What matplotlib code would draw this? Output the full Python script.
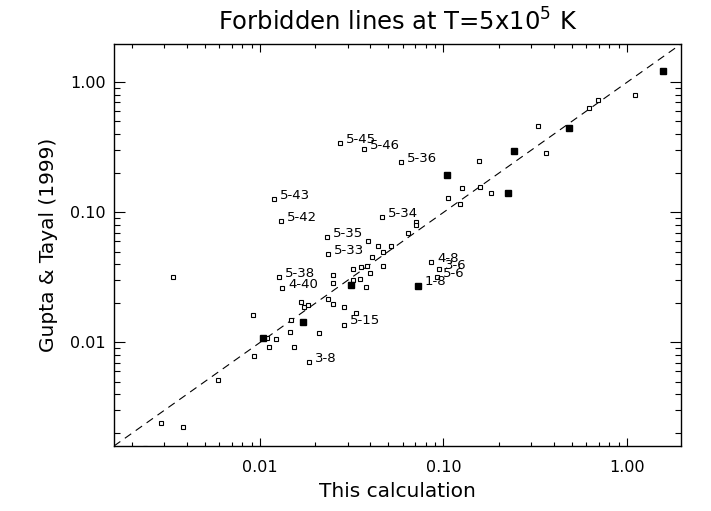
import matplotlib.pyplot as plt
from matplotlib.ticker import FixedLocator, FixedFormatter, LogLocator, NullFormatter

# forbidden-line rates: this calculation (x) vs Gupta & Tayal 1999 (y)
# open squares, with the line id where one is written next to it
open_x = [0.0273, 0.0369, 0.0586, 0.0119, 0.0130, 0.0463, 0.0232, 0.0235,
          0.0127, 0.0132, 0.0287, 0.0185, 0.0855, 0.0945, 0.0922,
          0.0388, 0.0407, 0.0440, 0.156, 0.327, 0.362, 0.621, 0.695, 1.105,
          0.126, 0.1057, 0.123, 0.158, 0.1816, 0.0708, 0.0708, 0.0641,
          0.0517, 0.0468, 0.0468, 0.00336, 0.00916, 0.0109, 0.0112, 0.0122,
          0.00927, 0.0146, 0.0147, 0.0153, 0.0167, 0.0174, 0.0183, 0.0210,
          0.0235, 0.0250, 0.0250, 0.0250, 0.0287, 0.0333, 0.0321, 0.0321,
          0.0355, 0.0383, 0.0379, 0.0398, 0.0351, 0.00288, 0.0038, 0.0059,
          0.00236]
open_y = [0.340, 0.305, 0.243, 0.126, 0.0853, 0.0915, 0.0642, 0.0475,
          0.0316, 0.0260, 0.0137, 0.00702, 0.0412, 0.0364, 0.0316,
          0.0598, 0.0450, 0.0547, 0.247, 0.459, 0.284, 0.631, 0.727, 0.794,
          0.153, 0.130, 0.117, 0.158, 0.140, 0.0838, 0.0795, 0.0689,
          0.0547, 0.0492, 0.0385, 0.0316, 0.0162, 0.0109, 0.0093, 0.0107,
          0.00794, 0.0121, 0.0148, 0.0093, 0.0203, 0.0186, 0.0193, 0.0119,
          0.0214, 0.0196, 0.0285, 0.0328, 0.0189, 0.0167, 0.0364, 0.0300,
          0.0378, 0.0385, 0.0265, 0.0340, 0.0305, 0.00242, 0.00222, 0.00519,
          0.00155]
open_names = ['5-45', '5-46', '5-36', '5-43', '5-42', '5-34', '5-35', '5-33',
              '5-38', '4-40', '5-15', '3-8', '4-8', '3-6', '5-6'] + [''] * 50

# filled squares
filled_x = [0.0726, 0.0104, 0.0171, 0.0313, 0.1045, 0.2245, 0.242, 0.483, 1.57]
filled_y = [0.0274, 0.0109, 0.0143, 0.0279, 0.193, 0.140, 0.294, 0.443, 1.22]
filled_names = ['1-8', '', '', '', '', '', '', '', '']

lims = [0.0016, 1.97]
tick_vals = [0.01, 0.1, 1.0]
tick_labels = ['0.01', '0.10', '1.00']


def main():
    plt.rcParams['font.family'] = 'DejaVu Sans'
    fig = plt.figure(figsize=(7.11, 5.11), dpi=100)
    ax = fig.add_axes([0.1603, 0.1272, 0.7975, 0.7867])
    ax.set_xscale('log')
    ax.set_yscale('log')

    # one-to-one line
    ax.plot(lims, lims, color='black', lw=0.8, dashes=(7, 5))

    ax.plot(open_x, open_y, ls='none', marker='s', ms=3.0, mfc='white',
            mec='black', mew=0.8)
    ax.plot(filled_x, filled_y, ls='none', marker='s', ms=4.3, color='black')

    for names, xs, ys in [(open_names, open_x, open_y),
                          (filled_names, filled_x, filled_y)]:
        for name, x, y in zip(names, xs, ys):
            if name:
                ax.annotate(name, (x, y), xytext=(4.5, 2.8),
                            textcoords='offset points', fontsize=9.5,
                            ha='left', va='center')

    ax.set_xlim(lims)
    ax.set_ylim(lims)

    for axis in (ax.xaxis, ax.yaxis):
        axis.set_major_locator(FixedLocator(tick_vals))
        axis.set_major_formatter(FixedFormatter(tick_labels))
        axis.set_minor_locator(LogLocator(base=10, subs=range(2, 10)))
        axis.set_minor_formatter(NullFormatter())

    ax.tick_params(which='both', direction='in', top=True, right=True,
                   width=0.8, labelsize=11.5, color='black')
    ax.tick_params(axis='x', which='major', length=5.8, pad=10)
    ax.tick_params(axis='x', which='minor', length=2.9)
    ax.tick_params(axis='y', which='major', length=7.9, pad=6)
    ax.tick_params(axis='y', which='minor', length=4.0)
    for spine in ax.spines.values():
        spine.set_linewidth(1.0)

    ax.set_title('Forbidden lines at T=5x10$^5$ K', fontsize=17.5, pad=10)
    ax.set_xlabel('This calculation', fontsize=14.5, labelpad=5)
    ax.set_ylabel('Gupta & Tayal (1999)', fontsize=14.5, labelpad=9)

    fig.savefig('out.png', dpi=100)


if __name__ == '__main__':
    main()
